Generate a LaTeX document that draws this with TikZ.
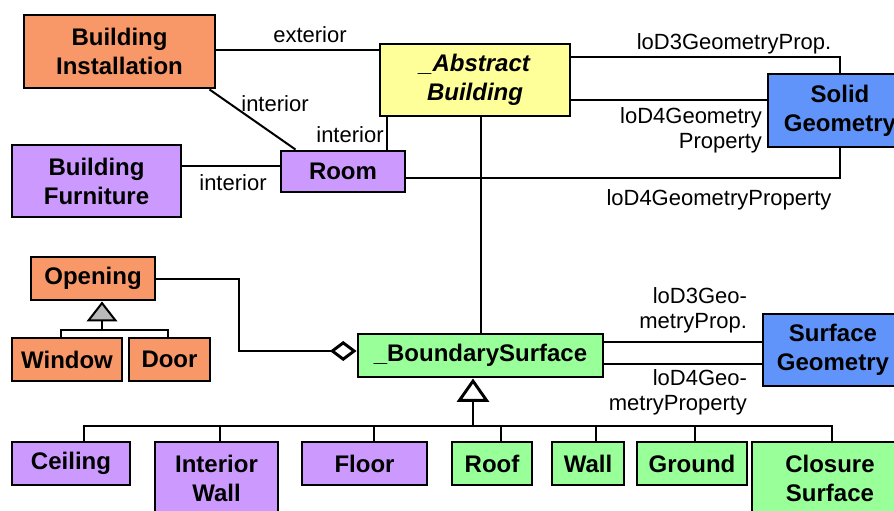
\documentclass[tikz,border=0pt]{standalone}
\usepackage{fontspec}
\setmainfont{Liberation Sans}
\usetikzlibrary{arrows.meta,calc}

\definecolor{orng}{RGB}{248,152,104}
\definecolor{yllw}{RGB}{255,255,153}
\definecolor{purp}{RGB}{204,153,255}
\definecolor{blu}{RGB}{96,148,250}
\definecolor{grn}{RGB}{153,255,153}

\tikzset{every picture/.style={line width=1.5pt},
  cls/.style={draw, line width=2.2pt, inner sep=0pt, align=center, font=\fontsize{18}{21.75}\selectfont\bfseries},
  wh/.style 2 args={minimum width=#1*0.75pt, minimum height=#2*0.75pt},
  lbl/.style={font=\fontsize{16.5}{19}\selectfont, inner sep=0pt, align=right},
  gen/.style={-{Triangle[fill=white, line width=2.2pt, length=17.5pt, width=24pt]}},
  genf/.style={-{Triangle[fill=gray!55, length=15pt, width=23pt]}},
  aggr/.style={-{Diamond[fill=white, line width=2.2pt, length=20pt, width=15pt]}}}

\begin{document}
\begin{tikzpicture}[x=0.75pt,y=0.75pt,yscale=-1,xscale=1]
            \useasboundingbox (0,0) rectangle (894,511);
            \clip (0,0) rectangle (894,511);

            % Class Nodes
            \node [cls, fill=orng, wh={191}{73}] (inst) at (119.5,51.5) {Building\\Installation};
            \node [cls, fill=yllw, wh={190}{72}] (absb) at (475,80) {\textit{\_Abstract}\\\textit{Building}};
            \node [cls, fill=purp, wh={124}{41}] (room) at (343,171.5) {Room};
            \node [cls, fill=purp, wh={169}{72}] (furn) at (96.5,181) {Building\\Furniture};
            \node [cls, fill=blu, wh={144}{73}] (solid) at (840,110.5) {Solid\\Geometry};
            \node [cls, fill=orng, wh={124}{43}] (open) at (93,278.5) {Opening};
            \node [cls, fill=orng, wh={110}{43}] (win) at (67,359.5) {Window};
            \node [cls, fill=orng, wh={81}{43}] (door) at (169.5,359.5) {Door};
            \node [cls, fill=grn, wh={245}{43}] (bnd) at (480.5,355.5) {\_BoundarySurface};
            \node [cls, fill=blu, wh={140}{72}] (surf) at (833,350) {Surface\\Geometry};
            \node [cls, fill=purp, wh={118}{43}] (ceil) at (71,463.5) {Ceiling};
            \node [cls, fill=purp, wh={123}{73}] (iwall) at (216.5,478.5) {Interior\\Wall};
            \node [cls, fill=purp, wh={125}{43}] (floor) at (364.5,463.5) {Floor};
            \node [cls, fill=grn, wh={80}{43}] (roof) at (492,463.5) {Roof};
            \node [cls, fill=grn, wh={72}{43}] (wall) at (588,463.5) {Wall};
            \node [cls, fill=grn, wh={110}{43}] (ground) at (692,463.5) {Ground};
            \node [cls, fill=grn, wh={156}{73}] (clos) at (830,478.5) {Closure\\Surface};

            %Straight Lines
            \draw (inst.east |- 0,50) -- (absb.west |- 0,50);
            \draw ($(inst.south east)+(-7,0)$) -- ($(room.north west)+(16,0)$);
            \draw (room.north -| 387,0) -- (absb.south -| 387,0);
            \draw (furn.east |- 0,166) -- (room.west |- 0,166);
            \draw (room.east |- 0,178) -| (solid.south);
            \draw (absb.east |- 0,57) -| (solid.north);
            \draw (absb.east |- 0,100) -- (solid.west |- 0,100);
            \draw (absb.south -| bnd.north) -- (bnd.north);
            \draw [aggr] (open.east) -- (open.east -| 239,0) |- (bnd.west |- 0,351);
            \draw (bnd.east |- 0,342) -- (surf.west |- 0,342);
            \draw (bnd.east |- 0,364) -- (surf.west |- 0,364);

            %Generalisation
            \coordinate (obus) at (102,330);
            \draw [genf] (obus) -- (obus |- open.south);
            \draw (win.north -| 61,0) |- (obus);
            \draw (door.north -| 168,0) |- (obus);
            \coordinate (bus) at (473,426);
            \draw [gen] (bus) -- (bus |- bnd.south);
            \foreach \n/\x in {ceil/84, iwall/220, floor/374, roof/501, wall/596, ground/695, clos/832}
                \draw (\n.north -| \x,0) |- (bus);

            % Text Node
            \draw (310,35) node [lbl] {exterior};
            % Text Node
            \draw (275,104) node [lbl] {interior};
            % Text Node
            \draw (350,134.5) node [lbl] {interior};
            % Text Node
            \draw (233,182.5) node [lbl] {interior};
            % Text Node
            \draw (734,44) node [lbl] {loD3GeometryProp.};
            % Text Node
            \draw (763,130.5) node [lbl, anchor=east] {loD4Geometry\\Property};
            % Text Node
            \draw (719,200) node [lbl] {loD4GeometryProperty};
            % Text Node
            \draw (748,310) node [lbl, anchor=east] {loD3Geo-\\metryProp.};
            % Text Node
            \draw (748,392.5) node [lbl, anchor=east] {loD4Geo-\\metryProperty};

\end{tikzpicture}
\end{document}
